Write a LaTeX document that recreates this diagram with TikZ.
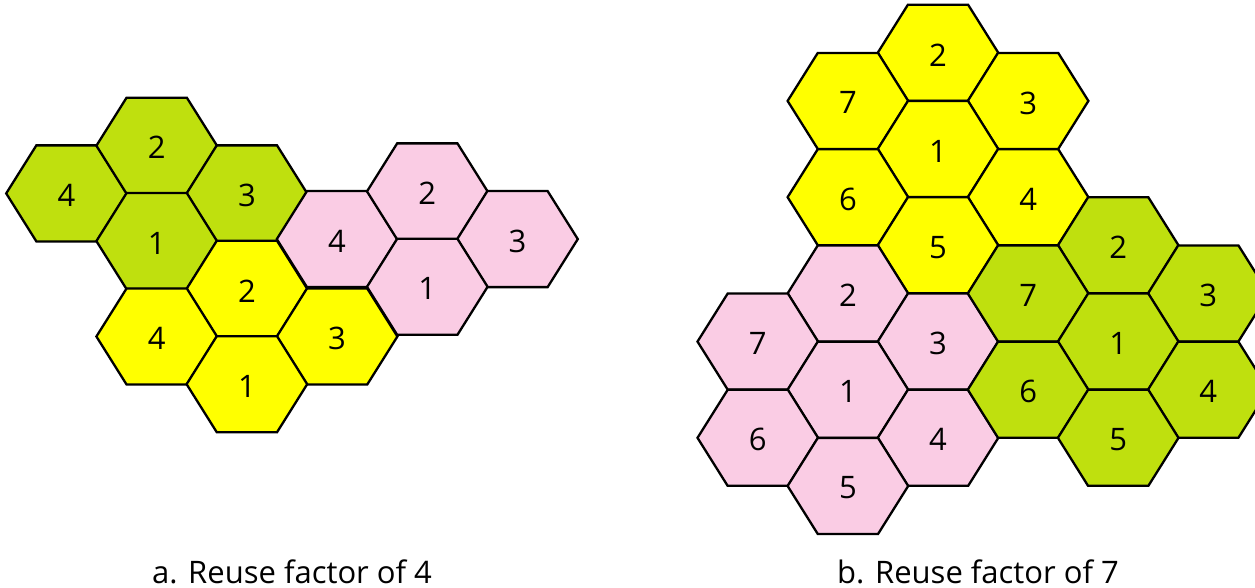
\documentclass[tikz,border=0pt]{standalone}
\usepackage{fontspec}
\setmainfont{Open Sans}
\definecolor{cellgreen}{RGB}{191,224,14}
\definecolor{cellyellow}{RGB}{255,255,0}
\definecolor{cellpink}{RGB}{250,204,228}
\tikzset{
  hexline/.style={draw=black, line width=2.3pt, line join=miter},
  cellnum/.style={font=\fontsize{31}{31}\selectfont, inner sep=0pt, yshift=-2pt},
  captiontext/.style={font=\fontsize{31}{31}\selectfont, anchor=base, inner sep=0pt}
}
\newcommand\hexcell[5]{%
  \begin{scope}[shift={(#2,#3)}]
    \path[hexline, fill=#4] (60.3,0) -- (30.15,48) -- (-30.15,48) -- (-60.3,0)
      -- (-30.15,-48) -- (30.15,-48) -- cycle;
    \node[cellnum] (#1) at (0,0) {#5};
  \end{scope}}
\begin{document}
\begin{tikzpicture}[x=1pt,y=-1pt]
\useasboundingbox (0,0) rectangle (1255,588);
\clip (0,0) rectangle (1255,588);
% a. reuse factor 4
\foreach \n/\c/\k/\col/\lab/\dy in {
  aG4/0/1/cellgreen/4/0, aG2/1/0/cellgreen/2/0, aG3/2/1/cellgreen/3/0, aG1/1/2/cellgreen/1/0,
  aY2/2/3/cellyellow/2/0, aY4/1/4/cellyellow/4/0, aY3/3/4/cellyellow/3/0, aY1/2/5/cellyellow/1/0,
  aP4/3/2/cellpink/4/-2, aP2/4/1/cellpink/2/-2, aP3/5/2/cellpink/3/-2, aP1/4/3/cellpink/1/-2}{
  \pgfmathsetmacro\xx{66.5+90.2*\c}
  \pgfmathsetmacro\yy{145.7+47.7*\k+\dy}
  \hexcell{\n}{\xx}{\yy}{\col}{\lab}
}
% b. reuse factor 7
\foreach \n/\c/\k/\col/\lab in {
  bY2/2/0/cellyellow/2, bY7/1/1/cellyellow/7, bY3/3/1/cellyellow/3, bY1/2/2/cellyellow/1,
  bY6/1/3/cellyellow/6, bY4/3/3/cellyellow/4, bY5/2/4/cellyellow/5,
  bP2/1/5/cellpink/2, bP7/0/6/cellpink/7, bP3/2/6/cellpink/3, bP1/1/7/cellpink/1,
  bP6/0/8/cellpink/6, bP4/2/8/cellpink/4, bP5/1/9/cellpink/5,
  bG2/4/4/cellgreen/2, bG7/3/5/cellgreen/7, bG3/5/5/cellgreen/3, bG1/4/6/cellgreen/1,
  bG6/3/7/cellgreen/6, bG4/5/7/cellgreen/4, bG5/4/8/cellgreen/5}{
  \pgfmathsetmacro\xx{757.8+90.1*\c}
  \pgfmathsetmacro\yy{52.8+48.13*\k}
  \hexcell{\n}{\xx}{\yy}{\col}{\lab}
}
\node[captiontext] (capa) at (292,583) {a. Reuse factor of 4};
\node[captiontext] (capb) at (978,583) {b. Reuse factor of 7};
\end{tikzpicture}
\end{document}
